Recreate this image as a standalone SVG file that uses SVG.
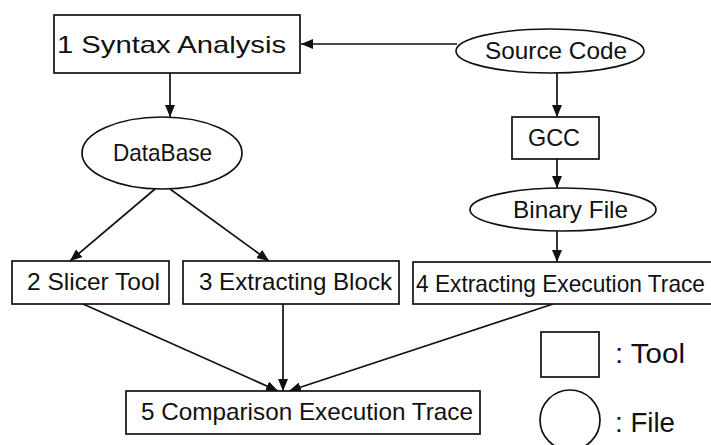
<svg xmlns="http://www.w3.org/2000/svg" width="711" height="445" viewBox="0 0 711 445">
<style>
.box{fill:#fff;stroke:#111;stroke-width:1.7}
.ell{fill:#fff;stroke:#111;stroke-width:1.7}
.t{font-family:"Liberation Sans",Arial,sans-serif;font-size:24px;fill:#111}
.lg{font-family:"Liberation Sans",Arial,sans-serif;font-size:28px;fill:#111}
.c{fill:none;stroke:#111;stroke-width:1.7}
</style>
<defs>
<marker id="ah" markerUnits="userSpaceOnUse" markerWidth="12" markerHeight="10" refX="12" refY="5" orient="auto">
<path d="M0,0 L12,5 L0,10 Z" fill="#111"/>
</marker>
</defs>
<rect width="711" height="445" fill="#fff"/>
<g id="connectors">
<line class="c" x1="457" y1="44" x2="301" y2="44" marker-end="url(#ah)"/>
<line class="c" x1="170" y1="73" x2="170" y2="117" marker-end="url(#ah)"/>
<line class="c" x1="155" y1="189" x2="70" y2="261" marker-end="url(#ah)"/>
<line class="c" x1="170" y1="189" x2="269" y2="261" marker-end="url(#ah)"/>
<line class="c" x1="557" y1="73" x2="557" y2="117" marker-end="url(#ah)"/>
<line class="c" x1="557" y1="159" x2="557" y2="188" marker-end="url(#ah)"/>
<line class="c" x1="557" y1="231" x2="557" y2="262" marker-end="url(#ah)"/>
<line class="c" x1="83" y1="304" x2="278" y2="391" marker-end="url(#ah)"/>
<line class="c" x1="283" y1="304" x2="283" y2="391" marker-end="url(#ah)"/>
<line class="c" x1="553" y1="304" x2="289" y2="391" marker-end="url(#ah)"/>
</g>
<g id="syntax">
<rect class="box" x="54" y="15" width="246" height="58"/>
<text class="t" x="57" y="53" font-size="25" textLength="229" lengthAdjust="spacingAndGlyphs">1 Syntax Analysis</text>
</g>
<g id="source">
<ellipse class="ell" cx="550" cy="51" rx="94" ry="22"/>
<text class="t" x="485" y="59" textLength="142" lengthAdjust="spacingAndGlyphs">Source Code</text>
</g>
<g id="database">
<ellipse class="ell" cx="162" cy="153" rx="80" ry="36"/>
<text class="t" x="113" y="161" textLength="99" lengthAdjust="spacingAndGlyphs">DataBase</text>
</g>
<g id="gcc">
<rect class="box" x="512" y="117" width="87" height="42"/>
<text class="t" x="528" y="146" textLength="52" lengthAdjust="spacingAndGlyphs">GCC</text>
</g>
<g id="binary">
<ellipse class="ell" cx="563" cy="209.5" rx="93" ry="21.5"/>
<text class="t" x="513" y="218" textLength="115" lengthAdjust="spacingAndGlyphs">Binary File</text>
</g>
<g id="slicer">
<rect class="box" x="12" y="261" width="157" height="43"/>
<text class="t" x="27" y="290" textLength="133" lengthAdjust="spacingAndGlyphs">2 Slicer Tool</text>
</g>
<g id="block">
<rect class="box" x="183" y="261" width="216" height="43"/>
<text class="t" x="199" y="290" textLength="193" lengthAdjust="spacingAndGlyphs">3 Extracting Block</text>
</g>
<g id="trace">
<rect class="box" x="413" y="262" width="302" height="42"/>
<text class="t" x="416" y="292" font-size="22" textLength="289" lengthAdjust="spacingAndGlyphs">4 Extracting Execution Trace</text>
</g>
<g id="comparison">
<rect class="box" x="126" y="391" width="354" height="43"/>
<text class="t" x="141" y="420" textLength="332" lengthAdjust="spacingAndGlyphs">5 Comparison Execution Trace</text>
</g>
<g id="legend-tool">
<rect class="box" x="541" y="332" width="58" height="45"/>
<text class="lg" x="615" y="363" textLength="70" lengthAdjust="spacingAndGlyphs">: Tool</text>
</g>
<g id="legend-file">
<circle class="ell" cx="570" cy="420" r="30"/>
<text class="lg" x="615" y="432" textLength="60" lengthAdjust="spacingAndGlyphs">: File</text>
</g>
</svg>
